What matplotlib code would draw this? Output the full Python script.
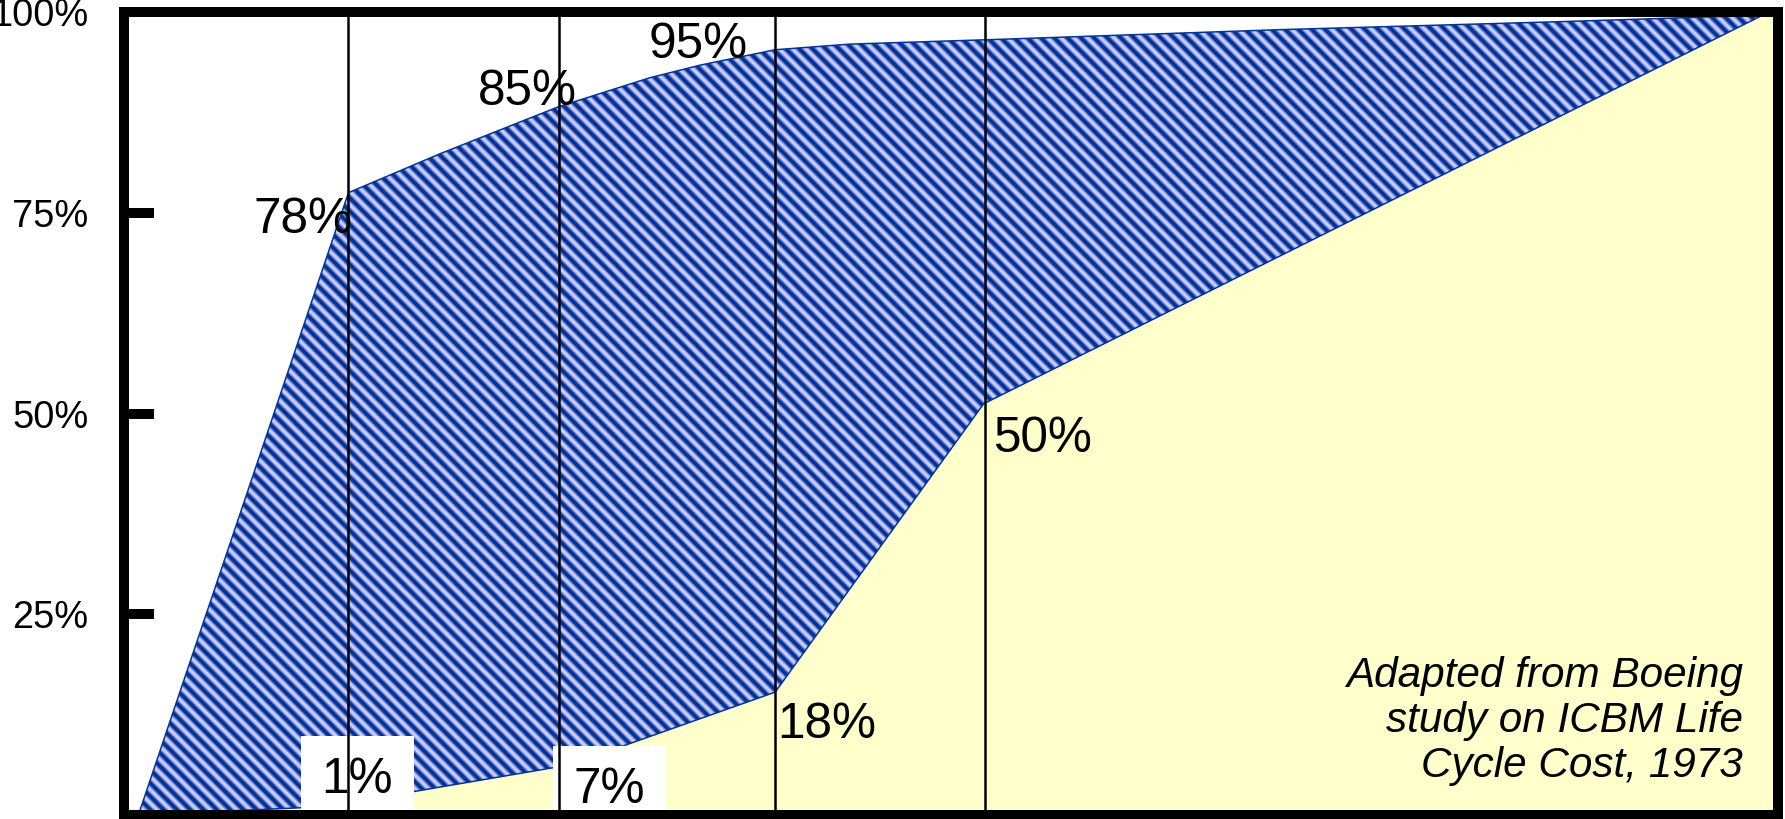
import numpy as np
import matplotlib
matplotlib.use("Agg")
import matplotlib.pyplot as plt
from matplotlib.collections import LineCollection

# --- data (x = % of the way along the chart's time axis, y = % of life cycle cost) ---
phase_x = [13.6, 26.3, 39.4, 52.1]          # phase boundaries (vertical lines)

committed_x = [0.9, 13.6, 19.2, 26.3, 31.8, 34.9, 39.4, 43.9, 53.0, 69.9, 86.9, 99.1]
committed_y = [0.0, 77.5, 82.4, 88.2, 91.8, 93.4, 95.3, 96.0, 96.6, 97.8, 98.8, 99.6]

spent_x = [0.9, 10.7, 17.5, 26.3, 29.8, 39.4, 52.0, 99.1]
spent_y = [0.0, 0.9, 2.9, 6.0, 8.3, 15.3, 51.2, 99.6]

committed_labels = [78, 85, 95]     # at first three phase lines
spent_labels = [1, 7, 18, 50]       # at the four phase lines

y_ticks = [25, 50, 75, 100]
note = "Adapted from Boeing\nstudy on ICBM Life\nCycle Cost, 1973"

# --- style ---
DPI = 80
W_PX, H_PX = 1785, 819
def pt(px):
    return px * 72.0 / DPI

plt.rcParams['font.family'] = ['Liberation Sans', 'DejaVu Sans']

YELLOW = '#FFFFCC'
LIGHTBLUE = '#CCCCFF'
DARKBLUE = '#003399'

fig = plt.figure(figsize=(W_PX / DPI, H_PX / DPI), dpi=DPI)
ax = fig.add_axes([123.5 / W_PX, 4 / H_PX, 1654 / W_PX, 803 / H_PX])
ax.set_xlim(0, 100)
ax.set_ylim(0, 100)

# yellow area under the spent curve
ax.fill(spent_x + [100, 100], spent_y + [100, 0], color=YELLOW, lw=0, zorder=1)

# band between committed and spent
band_x = committed_x + spent_x[::-1]
band_y = committed_y + spent_y[::-1]
band = ax.fill(band_x, band_y, facecolor=LIGHTBLUE, edgecolor=DARKBLUE,
               lw=pt(1.5), zorder=2)[0]

# diagonal stripes clipped to the band (soft edge + solid core)
period = 13.3 / DPI
wi, hi = W_PX / DPI, H_PX / DPI
starts = np.arange(-hi, wi + period, period)
segs = [[(s, hi), (s + hi, 0)] for s in starts]
for lw, alpha in [(6.5, 0.45), (3.6, 1.0)]:
    lc = LineCollection(segs, colors=DARKBLUE, linewidths=pt(lw), alpha=alpha,
                        transform=fig.dpi_scale_trans, zorder=2.5)
    ax.add_collection(lc)
    lc.set_clip_path(band)

# phase lines
for xv in phase_x:
    ax.axvline(xv, color='black', lw=pt(2.5), zorder=5)

lab_fs = pt(49.5)
# committed labels
c_off = [(4, -44, 'right'), (18, 27.5, 'right'), (-27, -5.8, 'right')]
for i, v in enumerate(committed_labels):
    dx, dy, ha = c_off[i]
    ax.annotate(f"{v}%", xy=(phase_x[i], v), xytext=(pt(dx), pt(dy)),
                textcoords='offset points', ha=ha, va='baseline',
                fontsize=lab_fs, zorder=4)

# spent labels
s_off = [(9, 14, 'center', True), (51, -44, 'center', True),
         (2, -67.5, 'left', False), (8, -38.5, 'left', False)]
for i, v in enumerate(spent_labels):
    dx, dy, ha, boxed = s_off[i]
    bb = dict(boxstyle='square,pad=0.42', fc='white', ec='none') if boxed else None
    ax.annotate(f"{v}%", xy=(phase_x[i], v), xytext=(pt(dx), pt(dy)),
                textcoords='offset points', ha=ha, va='baseline',
                fontsize=lab_fs, bbox=bb, zorder=4)

ax.text(0.979, 0.036, note, transform=ax.transAxes, ha='right', va='bottom',
        fontsize=pt(42.2), style='italic', linespacing=1.16, zorder=4)

# frame and ticks
for s in ax.spines.values():
    s.set_linewidth(pt(10))
    s.set_color('black')
    s.set_zorder(10)
ax.set_xticks([])
ax.set_yticks(y_ticks)
ax.set_yticklabels([f"{t}%" for t in y_ticks])
ax.tick_params(axis='y', direction='in', length=pt(30), width=pt(10),
               pad=pt(35), labelsize=pt(38), color='black')

fig.savefig("out.png", dpi=DPI)
